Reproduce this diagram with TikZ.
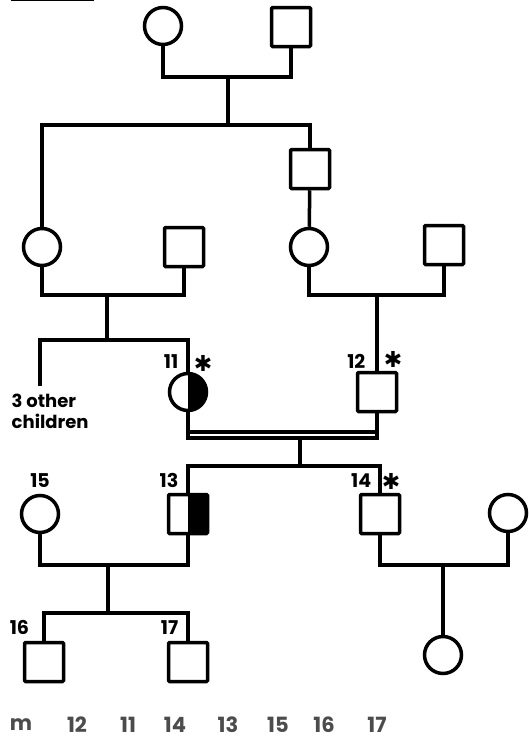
\documentclass[tikz,border=0pt]{standalone}
\usepackage{fontspec}
\setsansfont{Poppins}
\newfontfamily\starfont{DejaVu Sans}
\usetikzlibrary{calc}
\tikzset{
  pednode/.style = {inner sep=0pt, draw=black, line width=3.5pt},
  ped_f/.style = {pednode, circle, minimum size=37pt},% femme
  ped_m/.style = {pednode, rectangle, minimum size=39pt, rounded corners=1pt},% homme
  ped_fh/.style = {ped_f, path picture={\fill[black] (path picture bounding box.north)
    rectangle (path picture bounding box.south east);}},% femme, moitie noire
  ped_mh/.style = {ped_m, path picture={\fill[black] (path picture bounding box.north)
    rectangle (path picture bounding box.south east);}},% homme, moitie noire
  ped_lab/.style = {font=\sffamily\bfseries\fontsize{19}{19}\selectfont, inner sep=0pt},% numero
  ped_star/.style = {font=\starfont\fontsize{22}{22}\selectfont, inner sep=0pt},% asterisque
  ped_num/.style = {font=\sffamily\bfseries\fontsize{21}{21}\selectfont, text=black!70, inner sep=0pt}% ligne du bas
}
\begin{document}
\begin{tikzpicture}[x=1pt, y=-1pt, line width=3.5pt]
\useasboundingbox (0,0) rectangle (528,739);
% titre (coupe en haut)
\node [font=\sffamily\bfseries\fontsize{19}{19}\selectfont, inner sep=0pt, anchor=south west]
  (title) at (9,3) {\underline{Family 6}};
% generation I
\node [ped_f] (a1) at (163,26) {};
\node [ped_m] (a2) at (291,27) {};
\coordinate (m1) at (228,77);
\coordinate (s1) at (228,125);
% generation II
\node [ped_m] (b2) at (310,169) {};
% generation III
\node [ped_f] (c1) at (42,247) {};
\node [ped_m] (c2) at (184,247) {};
\node [ped_f] (c3) at (309,247) {};
\node [ped_m] (c4) at (444,245) {};
\coordinate (m2) at (107,295);
\coordinate (m3) at (377,295);
\coordinate (s2) at (107,340);
% generation IV
\coordinate (oth) at (40,386);
\node [inner sep=0pt, anchor=north west, align=left,
  font=\sffamily\bfseries\fontsize{18}{21}\selectfont] (others) at (10,392) {3 other\\children};
\node [ped_fh] (p11) at (188,392) {};
\node [ped_m] (p12) at (377,392) {};
\node [ped_lab, anchor=base east] (l11) at (180,368) {11};
\node [ped_star] (t11) at (203,363) {✱};
\node [ped_lab, anchor=base east] (l12) at (367,368) {12};
\node [ped_star] (t12) at (393,359) {✱};
\coordinate (m4u) at (300,432);
\coordinate (m4d) at (300,438);
\coordinate (s3) at (300,466);
% generation V
\node [ped_f] (p15) at (40,514) {};
\node [ped_mh] (p13) at (188,514) {};
\node [ped_m] (p14) at (380,514) {};
\node [ped_f] (p14w) at (508,513) {};
\node [ped_lab, anchor=base] (l15) at (40,487) {15};
\node [ped_lab, anchor=base east] (l13) at (180,487) {13};
\node [ped_lab, anchor=base east] (l14) at (373,487) {14};
\node [ped_star] (t14) at (391,481) {✱};
\coordinate (m5) at (108,565);
\coordinate (m6) at (443,565);
\coordinate (s4) at (108,613);
% generation VI
\node [ped_m] (p16) at (44,662) {};
\node [ped_m] (p17) at (188,662) {};
\node [ped_f] (p18) at (443,655) {};
\node [ped_lab, anchor=base west] (l16) at (8,634) {16};
\node [ped_lab, anchor=base east] (l17) at (180,634) {17};
% liens
\draw (a1.south) |- (m1) -| (a2.south);
\draw (m1) -- (s1);
\draw (c1.north) |- (s1) -| (b2.north);
\draw (b2) -- (c3);
\draw (c1.south) |- (m2) -| (c2.south);
\draw (c3.south) |- (m3) -| (c4.south);
\draw (m2) -- (s2);
\draw (oth) |- (s2) -| (p11.north);
\draw (m3) -- (p12);
\draw (p11.south) -- (p11.south |- m4d) -- (p12.south |- m4d) -- (p12.south);
\draw (p11.south |- m4u) -- (p12.south |- m4u);
\draw (m4d) -- (s3);
\draw (p13.north) |- (s3) -| (p14.north);
\draw (p15.south) |- (m5) -| (p13.south);
\draw (m5) -- (s4);
\draw (p16.north) |- (s4) -| (p17.north);
\draw (p14.south) |- (m6) -| (p14w.south);
\draw (m6) -- (p18);
% ligne du bas
\foreach \x/\t in {21/m, 77/12, 128/11, 175/14, 228/13, 278/15, 324/16, 377/17}
  \node [ped_num] (n\t) at (\x,725) {\t};
\end{tikzpicture}
\end{document}
